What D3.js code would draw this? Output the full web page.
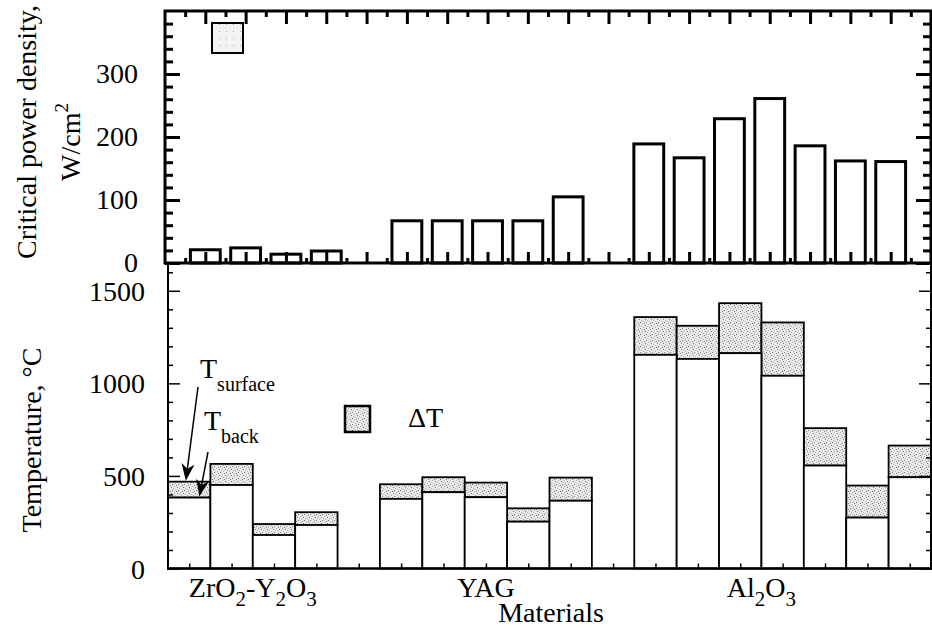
<!DOCTYPE html>
<html>
<head>
<meta charset="utf-8">
<script src="https://cdn.jsdelivr.net/npm/d3@7"></script>
<style>
  body { margin: 0; background: #fff; }
  svg { display: block; }
  text { font-family: "Liberation Serif", "Times New Roman", serif; fill: #000; }
</style>
</head>
<body>
<svg id="chart" width="932" height="629" font-family="Liberation Serif"></svg>
<script>
// slots along the x axis (4 and 10 are empty gaps between materials)
var slots = d3.range(18);
var groups = ["ZrO2-Y2O3", "YAG", "Al2O3"];
var groupCenter = [2, 7.5, 14];

// critical power density, W/cm2
var critPower = [21, 24, 14, 19, null, 67, 67, 67, 67, 105, null, 189, 167, 229, 261, 186, 162, 161];
// back side temperature and surface temperature, C
var tBack = [383, 451, 181, 235, null, 376, 412, 385, 253, 366, null, 1154, 1132, 1163, 1041, 556, 275, 493];
var tSurface = [469, 565, 240, 304, null, 455, 493, 464, 325, 491, null, 1358, 1311, 1433, 1329, 758, 448, 664];

var powerTicks = [0, 100, 200, 300];
var tempTicks = [0, 500, 1000, 1500];

var svg = d3.select("#chart");

// stipple for the delta T part
var defs = svg.append("defs");
var pat = defs.append("pattern").attr("id", "stip").attr("patternUnits", "userSpaceOnUse")
  .attr("width", 6).attr("height", 6);
pat.append("rect").attr("width", 6).attr("height", 6).attr("fill", "#e8e8e8");
[[0, 0], [3, 1], [1, 3], [4, 4], [5, 2], [2, 5]].forEach(function(p, i) {
  pat.append("rect").attr("x", p[0]).attr("y", p[1]).attr("width", 1).attr("height", 1)
    .attr("fill", i % 2 ? "#7a7a7a" : "#b4b4b4");
});
var pat2 = defs.append("pattern").attr("id", "stipLight").attr("patternUnits", "userSpaceOnUse")
  .attr("width", 7).attr("height", 7);
pat2.append("rect").attr("width", 7).attr("height", 7).attr("fill", "#f2f2f2");
pat2.append("rect").attr("x", 2).attr("y", 3).attr("width", 1).attr("height", 1).attr("fill", "#aaa");

// ---------- top panel ----------
var xTop = d3.scaleLinear().domain([-1, 18]).range([165, 931]);
var yTop = d3.scaleLinear().domain([0, 400]).range([263, 11]);
var topG = svg.append("g");

var bw = (xTop(1) - xTop(0)) * 0.74;
topG.selectAll(".pbar").data(slots.filter(function(i) { return critPower[i] != null; })).enter()
  .append("rect")
  .attr("x", function(i) { return xTop(i) - bw / 2; })
  .attr("y", function(i) { return yTop(critPower[i]); })
  .attr("width", bw)
  .attr("height", function(i) { return yTop(0) - yTop(critPower[i]); })
  .attr("fill", "#fff").attr("stroke", "#000").attr("stroke-width", 3);

function ticksG(g, axis, w) {
  g.call(axis);
  g.select(".domain").remove();
  g.selectAll("text").remove();
  g.selectAll("line").attr("stroke", "#000").attr("stroke-width", w);
}

var minorP = d3.range(20, 400, 20).filter(function(v) { return v % 100; });
// left axis
ticksG(topG.append("g").attr("transform", "translate(165,0)"),
  d3.axisRight(yTop).tickValues(minorP).tickSize(8), 3);
ticksG(topG.append("g").attr("transform", "translate(165,0)"),
  d3.axisRight(yTop).tickValues(powerTicks).tickSize(15), 3);
topG.selectAll(".plab").data(powerTicks).enter().append("text")
  .attr("x", 138).attr("y", function(d) { return yTop(d) + 9; })
  .attr("text-anchor", "end").style("font-size", "28px").text(function(d) { return d; });
// right axis
ticksG(topG.append("g").attr("transform", "translate(931,0)"),
  d3.axisLeft(yTop).tickValues(minorP).tickSize(8), 3);
ticksG(topG.append("g").attr("transform", "translate(931,0)"),
  d3.axisLeft(yTop).tickValues(powerTicks).tickSize(15), 3);
// top and bottom axis
ticksG(topG.append("g").attr("transform", "translate(0,11)"),
  d3.axisBottom(xTop).tickValues(slots).tickSize(13), 3);
ticksG(topG.append("g").attr("transform", "translate(0,11)"),
  d3.axisBottom(xTop).tickValues(d3.range(-0.5, 18, 1)).tickSize(6), 3);
ticksG(topG.append("g").attr("transform", "translate(0,263)"),
  d3.axisTop(xTop).tickValues(slots).tickSize(11), 3);
ticksG(topG.append("g").attr("transform", "translate(0,263)"),
  d3.axisTop(xTop).tickValues(d3.range(-0.5, 18, 1)).tickSize(5), 3);

topG.append("rect").attr("x", 165).attr("y", 11).attr("width", 766).attr("height", 252)
  .attr("fill", "none").attr("stroke", "#000").attr("stroke-width", 3);

topG.append("rect").attr("x", 212).attr("y", 23).attr("width", 31).attr("height", 30)
  .attr("fill", "url(#stipLight)").attr("stroke", "#000").attr("stroke-width", 2);

svg.append("text").attr("transform", "translate(36,132) rotate(-90)").attr("text-anchor", "middle")
  .style("font-size", "28px").text("Critical power density,");
var wl = svg.append("text").attr("transform", "translate(80,142) rotate(-90)").attr("text-anchor", "middle")
  .style("font-size", "28px");
wl.append("tspan").text("W/cm");
wl.append("tspan").attr("dy", -12).style("font-size", "19px").text("2");

// ---------- bottom panel ----------
var xBot = d3.scaleLinear().domain([0, 18]).range([168, 931]);
var yBot = d3.scaleLinear().domain([0, 1650]).range([568.5, 263]);
var bot = svg.append("g");
var filled = slots.filter(function(i) { return tBack[i] != null; });

bot.selectAll(".dt").data(filled).enter().append("rect")
  .attr("x", function(i) { return xBot(i); })
  .attr("y", function(i) { return yBot(tSurface[i]); })
  .attr("width", xBot(1) - xBot(0))
  .attr("height", function(i) { return yBot(tBack[i]) - yBot(tSurface[i]); })
  .attr("fill", "url(#stip)").attr("stroke", "#000").attr("stroke-width", 1.8);
bot.selectAll(".tb").data(filled).enter().append("rect")
  .attr("x", function(i) { return xBot(i); })
  .attr("y", function(i) { return yBot(tBack[i]); })
  .attr("width", xBot(1) - xBot(0))
  .attr("height", function(i) { return yBot(0) - yBot(tBack[i]); })
  .attr("fill", "#fff").attr("stroke", "#000").attr("stroke-width", 1.8);

var minorT = d3.range(100, 1700, 100).filter(function(v) { return v % 500; });
ticksG(bot.append("g").attr("transform", "translate(168,0)"),
  d3.axisRight(yBot).tickValues(minorT).tickSize(5), 1.5);
ticksG(bot.append("g").attr("transform", "translate(168,0)"),
  d3.axisRight(yBot).tickValues(tempTicks).tickSize(12), 1.5);
ticksG(bot.append("g").attr("transform", "translate(931,0)"),
  d3.axisLeft(yBot).tickValues(minorT).tickSize(5), 1.5);
ticksG(bot.append("g").attr("transform", "translate(931,0)"),
  d3.axisLeft(yBot).tickValues(tempTicks).tickSize(12), 1.5);
ticksG(bot.append("g").attr("transform", "translate(0,568.5)"),
  d3.axisTop(xBot).tickValues(d3.range(0.5, 18, 1)).tickSize(5), 1.5);

bot.append("line").attr("x1", 168).attr("x2", 168).attr("y1", 264).attr("y2", 569.5).attr("stroke", "#000").attr("stroke-width", 2);
bot.append("line").attr("x1", 931).attr("x2", 931).attr("y1", 264).attr("y2", 569.5).attr("stroke", "#000").attr("stroke-width", 2);
bot.append("line").attr("x1", 167).attr("x2", 932).attr("y1", 568.5).attr("y2", 568.5).attr("stroke", "#000").attr("stroke-width", 2.5);

bot.selectAll(".tlab").data(tempTicks).enter().append("text")
  .attr("x", 145).attr("y", function(d) { return yBot(d) + 10; })
  .attr("text-anchor", "end").style("font-size", "28px").text(function(d) { return d; });

svg.append("text").attr("transform", "translate(41,440) rotate(-90)").attr("text-anchor", "middle")
  .style("font-size", "28px").text("Temperature, °C");

// material labels with subscripts
groups.forEach(function(name, k) {
  var t = bot.append("text").attr("x", xBot(groupCenter[k])).attr("y", 597)
    .attr("text-anchor", "middle").style("font-size", "28px");
  var shift = 0;
  name.split(/(\d)/).filter(function(p) { return p !== ""; }).forEach(function(part) {
    var sub = /\d/.test(part);
    var want = sub ? 9 : 0;
    t.append("tspan").attr("dy", want - shift).style("font-size", sub ? "21px" : "28px").text(part);
    shift = want;
  });
});
svg.append("text").attr("x", 551).attr("y", 622).attr("text-anchor", "middle")
  .style("font-size", "28px").text("Materials");

// legend
bot.append("rect").attr("x", 345).attr("y", 406).attr("width", 25).attr("height", 26)
  .attr("fill", "url(#stip)").attr("stroke", "#000").attr("stroke-width", 2.5);
bot.append("text").attr("x", 408).attr("y", 427).style("font-size", "28px").text("ΔT");

// T_surface / T_back annotations
var ts = bot.append("text").attr("x", 200).attr("y", 378).style("font-size", "28px");
ts.append("tspan").text("T");
ts.append("tspan").attr("dy", 13).style("font-size", "20px").text("surface");
var tbk = bot.append("text").attr("x", 204).attr("y", 430).style("font-size", "28px");
tbk.append("tspan").text("T");
tbk.append("tspan").attr("dy", 13).style("font-size", "20px").text("back");

function arrow(x1, y1, x2, y2) {
  var a = Math.atan2(y2 - y1, x2 - x1), L = 17, W = 6.5;
  var bx = x2 - L * Math.cos(a), by = y2 - L * Math.sin(a);
  var nx = -Math.sin(a), ny = Math.cos(a);
  var mx = x2 - 0.7 * L * Math.cos(a), my = y2 - 0.7 * L * Math.sin(a);
  bot.append("line").attr("x1", x1).attr("y1", y1).attr("x2", mx).attr("y2", my)
    .attr("stroke", "#000").attr("stroke-width", 1.5);
  bot.append("path")
    .attr("d", "M" + x2 + "," + y2 + "L" + (bx + W * nx) + "," + (by + W * ny) +
      "L" + mx + "," + my + "L" + (bx - W * nx) + "," + (by - W * ny) + "Z")
    .attr("fill", "#000");
}
arrow(198, 387, xBot(0.42), yBot(tSurface[0]) - 1);
arrow(208, 452, xBot(0.74), yBot(tBack[0]) - 1);
</script>
</body>
</html>
